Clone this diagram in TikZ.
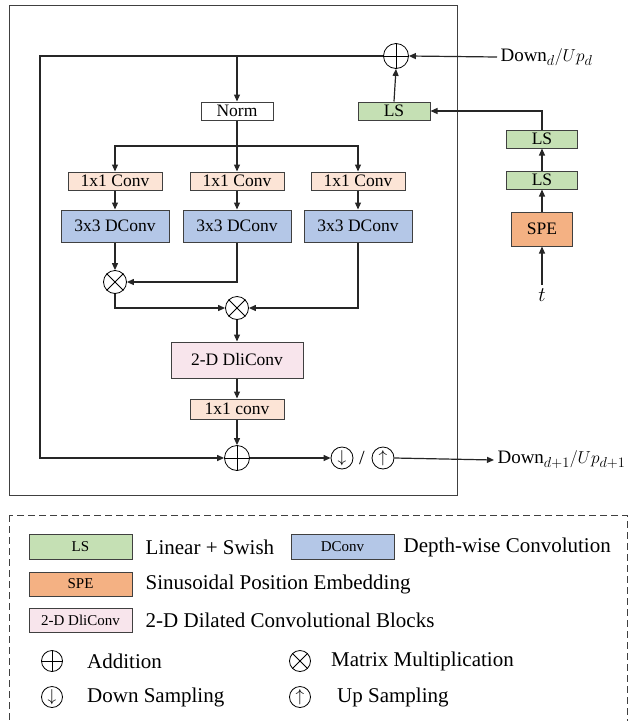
\documentclass[tikz,border=0pt]{standalone}
\usepackage{fontspec}
\setmainfont{Liberation Serif}
\usetikzlibrary{arrows.meta, positioning, calc}
\definecolor{convcolor}{RGB}{252, 228, 214}
\definecolor{dconvcolor}{RGB}{180, 199, 231}
\definecolor{lscolor}{RGB}{197, 224, 180}
\definecolor{specolor}{RGB}{244, 177, 131}
\definecolor{dlicolor}{RGB}{248, 229, 236}
\definecolor{edgecolor}{RGB}{64, 64, 64}
\tikzstyle{blockbox} = [
    rectangle,
    draw=edgecolor,
    line width=1pt,
    inner sep=0pt,
    text centered,
    font=\fontsize{17.5}{20}\selectfont
]
\tikzstyle{legendbox} = [
    rectangle,
    draw=edgecolor,
    line width=1pt,
    inner sep=0pt,
    minimum width=103pt,
    minimum height=25pt,
    font=\fontsize{15}{17}\selectfont
]
\tikzstyle{opnode} = [
    circle,
    draw=black,
    line width=0.8pt,
    inner sep=0pt,
    minimum size=25pt
]
\tikzstyle{legendtext} = [
    anchor=west,
    inner sep=0pt,
    font=\fontsize{21}{24}\selectfont
]
\tikzstyle{arrow} = [
    -{Triangle[length=7pt, width=6pt]},
    line width=1.2pt,
    color=black!85
]

\begin{document}
\begin{tikzpicture}[x=1pt, y=-1pt]

\clip (0,0) rectangle (629,721);

% Outer block frame
\draw[line width=1pt, color=edgecolor] (9,5) rectangle (457,495);

% Top addition and time embedding input
\node[opnode] (sumtop) at (396,56) {};
\draw[line width=0.8pt] (sumtop.north) -- (sumtop.south) (sumtop.west) -- (sumtop.east);
\node[anchor=west, font=\fontsize{19}{22}\selectfont] (inlbl) at (497,57) {$\mathrm{Down}_{d}/Up_{d}$};
\draw[arrow] (inlbl.west) -- (sumtop.east);

% Norm and inner LS
\node[blockbox, fill=white, minimum width=72pt, minimum height=18pt] (norm) at (237,111) {Norm};
\node[blockbox, fill=lscolor, minimum width=72pt, minimum height=18pt] (lsin) at (394,111) {LS};
\draw[arrow] (lsin.north) -- (sumtop.south);
\draw[arrow] (norm.north |- sumtop.west) -- (norm.north);

% Time branch
\node[font=\fontsize{21}{24}\selectfont] (tin) at (542,295) {$t$};
\node[blockbox, fill=specolor, minimum width=61pt, minimum height=34pt] (spe) at (542,229) {SPE};
\node[blockbox, fill=lscolor, minimum width=71pt, minimum height=18pt] (lsa) at (542,180) {LS};
\node[blockbox, fill=lscolor, minimum width=71pt, minimum height=18pt] (lsb) at (542,139) {LS};
\draw[arrow] (tin.north) -- (spe.south);
\draw[arrow] (spe.north) -- (lsa.south);
\draw[arrow] (lsa.north) -- (lsb.south);
\draw[arrow] (lsb.north) |- (lsin.east);

% Three 1x1 conv branches
\coordinate (split) at (237,146);
\node[blockbox, fill=convcolor, minimum width=94pt, minimum height=18pt] (conva) at (115,181) {1x1 Conv};
\node[blockbox, fill=convcolor, minimum width=94pt, minimum height=18pt] (convb) at (237,181) {1x1 Conv};
\node[blockbox, fill=convcolor, minimum width=94pt, minimum height=18pt] (convc) at (358,181) {1x1 Conv};
\draw[line width=1.2pt, color=black!85] (norm.south) -- (split);
\draw[arrow] (split) -| (conva.north);
\draw[arrow] (split) -- (convb.north);
\draw[arrow] (split) -| (convc.north);

% Depth-wise convs
\node[blockbox, fill=dconvcolor, minimum width=108pt, minimum height=32pt] (dconva) at (115,226) {3x3 DConv};
\node[blockbox, fill=dconvcolor, minimum width=108pt, minimum height=32pt] (dconvb) at (237,226) {3x3 DConv};
\node[blockbox, fill=dconvcolor, minimum width=108pt, minimum height=32pt] (dconvc) at (358,226) {3x3 DConv};
\draw[arrow] (conva.south) -- (dconva.north);
\draw[arrow] (convb.south) -- (dconvb.north);
\draw[arrow] (convc.south) -- (dconvc.north);

% Matrix multiplications
\node[opnode, minimum size=23pt] (mula) at (115,282) {};
\draw[line width=0.8pt] (mula.north west) -- (mula.south east) (mula.north east) -- (mula.south west);
\node[opnode, minimum size=23pt] (mulb) at (237,308) {};
\draw[line width=0.8pt] (mulb.north west) -- (mulb.south east) (mulb.north east) -- (mulb.south west);
\draw[arrow] (dconva.south) -- (mula.north);
\draw[arrow] (dconvb.south) |- (mula.east);
\draw[arrow] (mula.south) |- (mulb.west);
\draw[arrow] (dconvc.south) |- (mulb.east);

% Dilated conv and output conv
\node[blockbox, fill=dlicolor, minimum width=132pt, minimum height=36pt] (dli) at (237,360) {2-D DliConv};
\node[blockbox, fill=convcolor, minimum width=94pt, minimum height=20pt] (convout) at (237,409) {1x1 conv};
\draw[arrow] (mulb.south) -- (dli.north);
\draw[arrow] (dli.south) -- (convout.north);

% Residual addition and sampling
\node[opnode] (sumbot) at (237,458) {};
\draw[line width=0.8pt] (sumbot.north) -- (sumbot.south) (sumbot.west) -- (sumbot.east);
\draw[arrow] (convout.south) -- (sumbot.north);
\coordinate (loopc) at (40,458);
\draw[arrow] (sumtop.west) -| (loopc) -- (sumbot.west);
\node[opnode, minimum size=22pt, font=\fontsize{17}{19}\selectfont] (downc) at (342,458) {$\downarrow$};
\node[font=\fontsize{20}{22}\selectfont, inner sep=0pt] (slash) at (362,458) {/};
\node[opnode, minimum size=22pt, font=\fontsize{17}{19}\selectfont] (upc) at (383,458) {$\uparrow$};
\draw[arrow] (sumbot.east) -- (downc.west);
\node[anchor=west, font=\fontsize{19}{22}\selectfont] (outlbl) at (494,460) {$\mathrm{Down}_{d+1}/Up_{d+1}$};
\draw[arrow] (upc.east) -- (outlbl.west);

% Legend
\draw[dashed, line width=1pt, color=edgecolor, dash pattern=on 7pt off 4pt] (9,515) rectangle (627.5,740);
\node[legendbox, fill=lscolor] (lgls) at (80.5,547) {LS};
\node[legendtext, right=13pt of lgls] (lglstxt) {Linear + Swish};
\node[legendbox, fill=dconvcolor] (lgdconv) at (342.5,547) {DConv};
\node[legendtext, right=9pt of lgdconv] (lgdconvtxt) {Depth-wise Convolution};
\node[legendbox, fill=specolor, minimum height=24pt] (lgspe) at (80.5,584) {SPE};
\node[legendtext, right=13pt of lgspe] (lgspetxt) {Sinusoidal Position Embedding};
\node[legendbox, fill=dlicolor, minimum height=24pt] (lgdli) at (80.5,620) {2-D DliConv};
\node[legendtext, right=13pt of lgdli] (lgdlitxt) {2-D Dilated Convolutional Blocks};

\node[opnode, minimum size=21pt] (lgadd) at (52,661) {};
\draw[line width=0.8pt] (lgadd.north) -- (lgadd.south) (lgadd.west) -- (lgadd.east);
\node[legendtext] (lgaddtxt) at (87,661) {Addition};
\node[opnode, minimum size=21pt] (lgmul) at (300,661) {};
\draw[line width=0.8pt] (lgmul.north west) -- (lgmul.south east) (lgmul.north east) -- (lgmul.south west);
\node[legendtext] (lgmultxt) at (331,661) {Matrix Multiplication};
\node[opnode, minimum size=21pt, font=\fontsize{16}{18}\selectfont] (lgdown) at (52,697) {$\downarrow$};
\node[legendtext] (lgdowntxt) at (87,697) {Down Sampling};
\node[opnode, minimum size=21pt, font=\fontsize{16}{18}\selectfont] (lgup) at (300,697) {$\uparrow$};
\node[legendtext] (lguptxt) at (337,697) {Up Sampling};

\end{tikzpicture}
\end{document}
